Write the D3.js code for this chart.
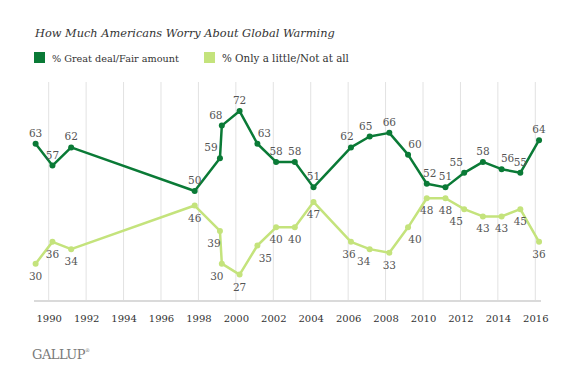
<html>
<head>
<script src="https://d3js.org/d3.v7.min.js"></script>
<style>
body { margin: 0; background: #fff; }
text { font-family: "DejaVu Serif", "Liberation Serif", serif; }
</style>
</head>
<body>
<svg id="chart" width="588" height="372"></svg>
<script>
// survey dates (fraction of year) and the two series
var years  = [1989.3, 1990.2, 1991.2, 1997.8, 1999.15, 1999.25, 2000.2, 2001.15, 2002.15, 2003.15, 2004.15,
              2006.15, 2007.15, 2008.2, 2009.2, 2010.2, 2011.2, 2012.2, 2013.2, 2014.2, 2015.2, 2016.2];
var great  = [63, 57, 62, 50, 59, 68, 72, 63, 58, 58, 51, 62, 65, 66, 60, 52, 51, 55, 58, 56, 55, 64];
var little = [30, 36, 34, 46, 39, 30, 27, 35, 40, 40, 47, 36, 34, 33, 40, 48, 48, 45, 43, 43, 45, 36];
var tickYears = [1990, 1992, 1994, 1996, 1998, 2000, 2002, 2004, 2006, 2008, 2010, 2012, 2014, 2016];
var seriesNames = ["% Great deal/Fair amount", "% Only a little/Not at all"];

// label nudges (px, horizontal) so labels don't sit on the lines
var greatDx  = [0, 0, 0, 0, -9, -6, 0, 7, 0, 0, 0, -4, -4, 0, 7, 3, 0, -8, 0, 6, 0, 0];
var littleDx = [0, 0, 0, 0, -6, -5, 0, 8, 0, 0, 0, -2, -6, 0, 7, 0, 0, -8, 0, 0, 0, 0];

var dark = "#0a7a36", light = "#c4e37c";

var svg = d3.select("#chart");

var x = d3.scaleLinear().domain([1990, 2016]).range([48.7, 535.3]);
var y = d3.scaleLinear().domain([20, 80]).range([300, 82]);

// shrink/grow a text's font size so it spans the width seen in the reference
function fitWidth(sel, w) {
  sel.each(function() {
    var fs = parseFloat(this.style.fontSize);
    var len = this.getComputedTextLength();
    d3.select(this).style("font-size", (fs * w / len).toFixed(2) + "px");
  });
}

/// title
svg.append("text")
  .attr("x", 35).attr("y", 37)
  .style("font-size", "12px").style("font-style", "italic")
  .attr("fill", "#333")
  .text("How Much Americans Worry About Global Warming")
  .call(fitWidth, 300);

/// legend
var lg = svg.append("g").selectAll("g").data(seriesNames).enter().append("g")
  .attr("transform", function(d, i) { return "translate(" + (i == 0 ? 34 : 204) + ",52)"; });
lg.append("rect").attr("width", 11).attr("height", 11)
  .attr("fill", function(d, i) { return i == 0 ? dark : light; });
lg.append("text").attr("x", 18).attr("y", 9.5)
  .style("font-size", "11px").attr("fill", "#333")
  .text(function(d) { return d; })
  .call(fitWidth, 127);

/// grid + axis
svg.append("g").selectAll("line").data(tickYears).enter().append("line")
  .attr("x1", function(d) { return x(d); }).attr("x2", function(d) { return x(d); })
  .attr("y1", 82).attr("y2", 301)
  .attr("stroke", "#e2e2e2").attr("stroke-width", 1);

svg.append("line")
  .attr("x1", 34).attr("x2", 541).attr("y1", 301).attr("y2", 301)
  .attr("stroke", "#dadada").attr("stroke-width", 2);

var xAxis = svg.append("g")
  .attr("transform", "translate(0,301)")
  .call(d3.axisBottom(x).tickValues(tickYears).tickFormat(d3.format("d")).tickSize(0).tickPadding(14));
xAxis.select(".domain").remove();
xAxis.selectAll("text")
  .style("font-family", "'DejaVu Serif', serif")
  .style("font-size", "10px").attr("fill", "#333");

/// lines
var line = d3.line().x(function(d) { return x(d[0]); }).y(function(d) { return y(d[1]); });

function drawSeries(vals, color, dxs, above) {
  var pts = years.map(function(yr, i) { return [yr, vals[i]]; });
  var g = svg.append("g");
  g.append("path").datum(pts)
    .attr("d", line).attr("fill", "none")
    .attr("stroke", color).attr("stroke-width", 2.5).attr("stroke-linejoin", "round");
  g.selectAll("circle").data(pts).enter().append("circle")
    .attr("cx", function(d) { return x(d[0]); })
    .attr("cy", function(d) { return y(d[1]); })
    .attr("r", 3).attr("fill", color);
  g.selectAll("text").data(pts).enter().append("text")
    .attr("x", function(d, i) { return x(d[0]) + dxs[i]; })
    .attr("y", function(d) { return y(d[1]) + (above ? -7 : 16); })
    .attr("text-anchor", "middle")
    .style("font-size", "10.5px").attr("fill", "#555")
    .text(function(d) { return d[1]; });
}

drawSeries(little, light, littleDx, false);
drawSeries(great, dark, greatDx, true);

/// logo
var logo = svg.append("text").attr("x", 32).attr("y", 359)
  .style("font-size", "13px").attr("fill", "#7a7a7a").style("letter-spacing", "-0.5px").text("GALLUP");
logo.append("tspan").attr("dy", -7).style("font-size", "5px").text("®");
</script>
</body>
</html>
